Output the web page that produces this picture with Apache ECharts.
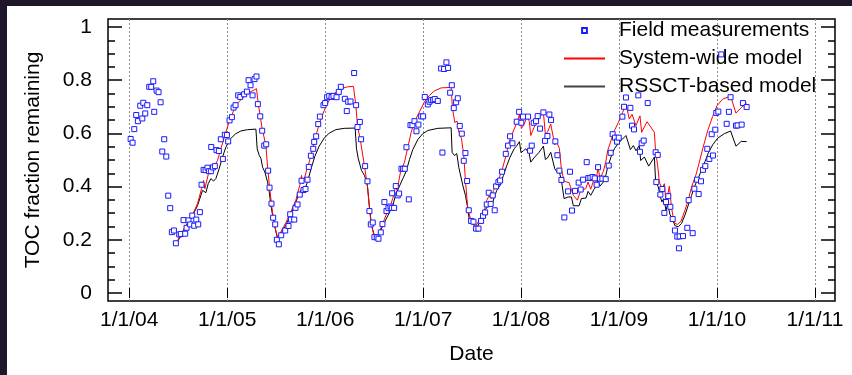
<!DOCTYPE html>
<html>
<head>
<meta charset="utf-8">
<script src="https://cdn.jsdelivr.net/npm/echarts@6/dist/echarts.min.js"></script>
<style>
  body { margin: 0; background: #1f1729; }
  #panel { position: absolute; left: 7px; top: 6px; width: 845px; height: 369px; background: #fff; }
  #chart { position: absolute; left: 0; top: 0; width: 852px; height: 375px; }
</style>
</head>
<body>
<div id="panel"></div>
<div id="chart"></div>
<script>
// time is in decimal years, value is TOC fraction remaining
const yearTicks = [2004, 2005, 2006, 2007, 2008, 2009, 2010, 2011]
const yTicks = [0, 0.2, 0.4, 0.6, 0.8, 1]
const yMinorTicks = [0.05, 0.1, 0.15, 0.25, 0.3, 0.35, 0.45, 0.5, 0.55, 0.65, 0.7, 0.75, 0.85, 0.9, 0.95]

const fieldData = [
  [2004.014, 0.579], [2004.034, 0.565], [2004.051, 0.616], [2004.071, 0.669], [2004.088, 0.646],
  [2004.112, 0.704], [2004.133, 0.656], [2004.143, 0.715], [2004.163, 0.675], [2004.184, 0.706],
  [2004.204, 0.775], [2004.224, 0.775], [2004.245, 0.796], [2004.255, 0.681], [2004.279, 0.761],
  [2004.299, 0.755], [2004.320, 0.717], [2004.337, 0.532], [2004.357, 0.578], [2004.378, 0.513],
  [2004.398, 0.366], [2004.418, 0.319], [2004.435, 0.229], [2004.456, 0.235], [2004.476, 0.187],
  [2004.510, 0.220], [2004.527, 0.222], [2004.554, 0.274], [2004.571, 0.223], [2004.585, 0.245],
  [2004.605, 0.273], [2004.622, 0.258], [2004.643, 0.291], [2004.663, 0.253], [2004.684, 0.276],
  [2004.704, 0.258], [2004.721, 0.304], [2004.738, 0.407], [2004.759, 0.463], [2004.779, 0.462],
  [2004.799, 0.471], [2004.813, 0.458], [2004.833, 0.458], [2004.837, 0.549], [2004.854, 0.472],
  [2004.874, 0.477], [2004.891, 0.537], [2004.915, 0.534], [2004.935, 0.578], [2004.956, 0.504],
  [2004.976, 0.595], [2004.997, 0.594], [2005.010, 0.570], [2005.024, 0.649], [2005.048, 0.661],
  [2005.065, 0.697], [2005.085, 0.706], [2005.112, 0.743], [2005.133, 0.737], [2005.173, 0.747],
  [2005.201, 0.757], [2005.218, 0.800], [2005.238, 0.781], [2005.259, 0.743], [2005.279, 0.804],
  [2005.299, 0.814], [2005.313, 0.710], [2005.337, 0.664], [2005.357, 0.610], [2005.378, 0.554],
  [2005.398, 0.559], [2005.418, 0.460], [2005.432, 0.396], [2005.452, 0.336], [2005.469, 0.283],
  [2005.490, 0.258], [2005.507, 0.200], [2005.527, 0.183], [2005.551, 0.217], [2005.592, 0.235],
  [2005.626, 0.252], [2005.643, 0.296], [2005.650, 0.276], [2005.684, 0.276], [2005.697, 0.320],
  [2005.718, 0.333], [2005.741, 0.370], [2005.759, 0.422], [2005.779, 0.387], [2005.799, 0.391],
  [2005.820, 0.426], [2005.833, 0.474], [2005.854, 0.516], [2005.878, 0.542], [2005.888, 0.568],
  [2005.908, 0.589], [2005.929, 0.635], [2005.946, 0.663], [2005.983, 0.706], [2006.000, 0.714],
  [2006.020, 0.736], [2006.041, 0.741], [2006.065, 0.737], [2006.085, 0.741], [2006.116, 0.736],
  [2006.139, 0.756], [2006.160, 0.775], [2006.201, 0.730], [2006.221, 0.684], [2006.235, 0.719],
  [2006.259, 0.720], [2006.296, 0.827], [2006.316, 0.706], [2006.330, 0.624], [2006.354, 0.643],
  [2006.367, 0.578], [2006.408, 0.477], [2006.432, 0.420], [2006.452, 0.308], [2006.466, 0.258],
  [2006.486, 0.265], [2006.503, 0.210], [2006.527, 0.209], [2006.544, 0.204], [2006.568, 0.228],
  [2006.585, 0.259], [2006.605, 0.342], [2006.626, 0.308], [2006.646, 0.320], [2006.667, 0.325],
  [2006.680, 0.320], [2006.684, 0.375], [2006.704, 0.320], [2006.721, 0.402], [2006.741, 0.367],
  [2006.755, 0.374], [2006.779, 0.467], [2006.796, 0.467], [2006.813, 0.467], [2006.830, 0.548],
  [2006.854, 0.352], [2006.871, 0.631], [2006.891, 0.631], [2006.912, 0.646], [2006.932, 0.608],
  [2006.952, 0.633], [2006.980, 0.664], [2007.000, 0.664], [2007.017, 0.737], [2007.048, 0.709],
  [2007.065, 0.719], [2007.082, 0.725], [2007.102, 0.726], [2007.119, 0.729], [2007.150, 0.722],
  [2007.184, 0.844], [2007.197, 0.528], [2007.214, 0.842], [2007.238, 0.867], [2007.255, 0.846],
  [2007.276, 0.753], [2007.293, 0.781], [2007.313, 0.695], [2007.337, 0.717], [2007.354, 0.732],
  [2007.374, 0.628], [2007.395, 0.599], [2007.415, 0.497], [2007.432, 0.526], [2007.449, 0.421],
  [2007.466, 0.311], [2007.490, 0.271], [2007.514, 0.268], [2007.541, 0.242], [2007.565, 0.242],
  [2007.592, 0.271], [2007.612, 0.290], [2007.633, 0.303], [2007.650, 0.333], [2007.670, 0.377],
  [2007.690, 0.335], [2007.711, 0.367], [2007.731, 0.311], [2007.745, 0.401], [2007.769, 0.417],
  [2007.786, 0.423], [2007.806, 0.456], [2007.844, 0.523], [2007.867, 0.554], [2007.888, 0.589],
  [2007.912, 0.563], [2007.956, 0.644], [2007.980, 0.681], [2008.003, 0.640], [2008.020, 0.663],
  [2008.071, 0.663], [2008.092, 0.535], [2008.109, 0.554], [2008.129, 0.640], [2008.153, 0.646],
  [2008.170, 0.665], [2008.194, 0.618], [2008.228, 0.679], [2008.245, 0.572], [2008.269, 0.590],
  [2008.289, 0.671], [2008.306, 0.650], [2008.350, 0.570], [2008.371, 0.518], [2008.391, 0.460],
  [2008.412, 0.425], [2008.442, 0.284], [2008.480, 0.382], [2008.500, 0.456], [2008.520, 0.310],
  [2008.551, 0.384], [2008.588, 0.415], [2008.609, 0.389], [2008.633, 0.426], [2008.670, 0.492],
  [2008.687, 0.432], [2008.707, 0.433], [2008.731, 0.436], [2008.752, 0.431], [2008.772, 0.407],
  [2008.786, 0.473], [2008.806, 0.430], [2008.830, 0.430], [2008.864, 0.428], [2008.895, 0.479],
  [2008.915, 0.527], [2008.935, 0.597], [2008.959, 0.584], [2008.980, 0.569], [2008.997, 0.584],
  [2009.034, 0.663], [2009.051, 0.700], [2009.071, 0.735], [2009.116, 0.696], [2009.133, 0.629],
  [2009.153, 0.615], [2009.197, 0.743], [2009.214, 0.531], [2009.231, 0.563], [2009.252, 0.573],
  [2009.293, 0.714], [2009.374, 0.529], [2009.381, 0.417], [2009.395, 0.519], [2009.422, 0.370],
  [2009.442, 0.391], [2009.463, 0.301], [2009.480, 0.342], [2009.503, 0.364], [2009.524, 0.324],
  [2009.548, 0.278], [2009.571, 0.235], [2009.595, 0.212], [2009.612, 0.168], [2009.619, 0.213],
  [2009.653, 0.214], [2009.697, 0.245], [2009.711, 0.349], [2009.752, 0.225], [2009.769, 0.392],
  [2009.796, 0.426], [2009.813, 0.372], [2009.837, 0.420], [2009.857, 0.463], [2009.881, 0.477],
  [2009.901, 0.542], [2009.922, 0.504], [2009.946, 0.597], [2009.959, 0.517], [2009.983, 0.614],
  [2009.993, 0.677], [2010.014, 0.682], [2010.044, 0.897], [2010.099, 0.636], [2010.122, 0.681],
  [2010.139, 0.736], [2010.194, 0.629], [2010.211, 0.630], [2010.252, 0.633], [2010.265, 0.714],
  [2010.303, 0.699]
]

const systemWideModel = [
  [2004.486, 0.193], [2004.561, 0.243], [2004.639, 0.289], [2004.697, 0.336], [2004.738, 0.392],
  [2004.759, 0.423], [2004.772, 0.392], [2004.806, 0.445], [2004.833, 0.465], [2004.867, 0.477],
  [2004.901, 0.498], [2004.935, 0.542], [2004.976, 0.592], [2005.020, 0.644], [2005.065, 0.685],
  [2005.112, 0.716], [2005.150, 0.730], [2005.207, 0.750], [2005.299, 0.768], [2005.316, 0.714],
  [2005.337, 0.666], [2005.354, 0.623], [2005.395, 0.554], [2005.412, 0.473], [2005.432, 0.399],
  [2005.452, 0.336], [2005.469, 0.286], [2005.490, 0.243], [2005.514, 0.208], [2005.548, 0.230],
  [2005.599, 0.265], [2005.650, 0.305], [2005.701, 0.349], [2005.745, 0.411], [2005.759, 0.442],
  [2005.772, 0.411], [2005.806, 0.455], [2005.837, 0.492], [2005.871, 0.542], [2005.915, 0.604],
  [2005.956, 0.654], [2006.007, 0.701], [2006.058, 0.735], [2006.109, 0.756], [2006.160, 0.768],
  [2006.228, 0.775], [2006.289, 0.777], [2006.313, 0.706], [2006.330, 0.629], [2006.357, 0.579],
  [2006.398, 0.486], [2006.435, 0.392], [2006.452, 0.318], [2006.469, 0.262], [2006.497, 0.218],
  [2006.520, 0.208], [2006.554, 0.230], [2006.588, 0.262], [2006.622, 0.293], [2006.667, 0.330],
  [2006.690, 0.355], [2006.718, 0.399], [2006.735, 0.386], [2006.769, 0.455], [2006.810, 0.492],
  [2006.844, 0.548], [2006.878, 0.604], [2006.912, 0.644], [2006.963, 0.681], [2007.014, 0.719],
  [2007.065, 0.743], [2007.116, 0.760], [2007.184, 0.771], [2007.286, 0.773], [2007.299, 0.697],
  [2007.323, 0.641], [2007.347, 0.646], [2007.367, 0.604], [2007.391, 0.582], [2007.415, 0.517],
  [2007.432, 0.423], [2007.456, 0.318], [2007.490, 0.270], [2007.541, 0.253], [2007.578, 0.278],
  [2007.626, 0.311], [2007.650, 0.349], [2007.673, 0.365], [2007.697, 0.355], [2007.718, 0.386],
  [2007.741, 0.399], [2007.776, 0.432], [2007.810, 0.467], [2007.844, 0.514], [2007.878, 0.567],
  [2007.912, 0.601], [2007.956, 0.639], [2007.983, 0.671], [2008.003, 0.619], [2008.024, 0.629],
  [2008.065, 0.664], [2008.085, 0.644], [2008.099, 0.592], [2008.133, 0.623], [2008.173, 0.654],
  [2008.228, 0.679], [2008.248, 0.598], [2008.269, 0.604], [2008.303, 0.635], [2008.344, 0.557],
  [2008.364, 0.567], [2008.391, 0.544], [2008.412, 0.465], [2008.439, 0.420], [2008.490, 0.415],
  [2008.534, 0.367], [2008.575, 0.349], [2008.609, 0.386], [2008.660, 0.392], [2008.684, 0.417],
  [2008.711, 0.390], [2008.738, 0.420], [2008.762, 0.411], [2008.786, 0.473], [2008.806, 0.430],
  [2008.840, 0.457], [2008.864, 0.492], [2008.884, 0.535], [2008.918, 0.573], [2008.952, 0.610],
  [2008.993, 0.641], [2009.037, 0.679], [2009.071, 0.710], [2009.105, 0.654], [2009.133, 0.672],
  [2009.173, 0.629], [2009.214, 0.666], [2009.231, 0.604], [2009.286, 0.644], [2009.361, 0.604],
  [2009.374, 0.529], [2009.395, 0.479], [2009.412, 0.417], [2009.439, 0.392], [2009.463, 0.411],
  [2009.480, 0.336], [2009.514, 0.402], [2009.537, 0.318], [2009.565, 0.262], [2009.599, 0.258],
  [2009.633, 0.270], [2009.667, 0.305], [2009.701, 0.342], [2009.741, 0.399], [2009.786, 0.445],
  [2009.820, 0.492], [2009.854, 0.542], [2009.905, 0.610], [2009.956, 0.664], [2010.000, 0.704],
  [2010.058, 0.729], [2010.139, 0.740], [2010.194, 0.676], [2010.248, 0.697], [2010.303, 0.714]
]

const rssctModel = [
  [2004.486, 0.189], [2004.561, 0.237], [2004.639, 0.286], [2004.697, 0.328], [2004.748, 0.386],
  [2004.782, 0.377], [2004.806, 0.411], [2004.833, 0.430], [2004.861, 0.421], [2004.884, 0.430],
  [2004.918, 0.467], [2004.952, 0.511], [2004.986, 0.548], [2005.031, 0.579], [2005.088, 0.599],
  [2005.139, 0.609], [2005.207, 0.614], [2005.293, 0.616], [2005.306, 0.542], [2005.327, 0.517],
  [2005.344, 0.507], [2005.361, 0.473], [2005.384, 0.455], [2005.412, 0.417], [2005.429, 0.380],
  [2005.446, 0.330], [2005.469, 0.280], [2005.490, 0.243], [2005.514, 0.205], [2005.548, 0.224],
  [2005.599, 0.255], [2005.650, 0.296], [2005.694, 0.336], [2005.735, 0.374], [2005.762, 0.392],
  [2005.786, 0.386], [2005.820, 0.417], [2005.854, 0.465], [2005.895, 0.514], [2005.939, 0.552],
  [2005.990, 0.582], [2006.041, 0.601], [2006.109, 0.614], [2006.194, 0.619], [2006.306, 0.620],
  [2006.320, 0.542], [2006.337, 0.507], [2006.357, 0.502], [2006.371, 0.461], [2006.401, 0.442],
  [2006.429, 0.411], [2006.449, 0.336], [2006.466, 0.278], [2006.486, 0.237], [2006.510, 0.208],
  [2006.554, 0.224], [2006.588, 0.253], [2006.639, 0.290], [2006.690, 0.328], [2006.718, 0.367],
  [2006.735, 0.361], [2006.759, 0.402], [2006.793, 0.430], [2006.827, 0.457], [2006.861, 0.502],
  [2006.895, 0.539], [2006.946, 0.577], [2006.997, 0.599], [2007.048, 0.611], [2007.150, 0.619],
  [2007.286, 0.621], [2007.296, 0.529], [2007.320, 0.517], [2007.344, 0.524], [2007.364, 0.473],
  [2007.381, 0.473], [2007.405, 0.405], [2007.432, 0.367], [2007.456, 0.318], [2007.473, 0.270],
  [2007.507, 0.259], [2007.544, 0.243], [2007.578, 0.265], [2007.626, 0.295], [2007.639, 0.315],
  [2007.673, 0.333], [2007.701, 0.328], [2007.724, 0.357], [2007.752, 0.386], [2007.786, 0.405],
  [2007.820, 0.442], [2007.854, 0.479], [2007.888, 0.511], [2007.929, 0.542], [2007.956, 0.554],
  [2007.983, 0.569], [2008.000, 0.527], [2008.024, 0.535], [2008.048, 0.542], [2008.082, 0.526],
  [2008.099, 0.492], [2008.139, 0.511], [2008.184, 0.529], [2008.228, 0.552], [2008.248, 0.502],
  [2008.269, 0.507], [2008.303, 0.529], [2008.344, 0.467], [2008.364, 0.457], [2008.391, 0.455],
  [2008.412, 0.423], [2008.439, 0.355], [2008.480, 0.361], [2008.514, 0.361], [2008.534, 0.328],
  [2008.592, 0.328], [2008.616, 0.355], [2008.663, 0.357], [2008.684, 0.382], [2008.711, 0.367],
  [2008.745, 0.390], [2008.765, 0.399], [2008.786, 0.423], [2008.806, 0.402], [2008.840, 0.417],
  [2008.864, 0.440], [2008.884, 0.473], [2008.918, 0.511], [2008.952, 0.542], [2008.993, 0.563],
  [2009.037, 0.579], [2009.071, 0.592], [2009.116, 0.539], [2009.146, 0.554], [2009.173, 0.535],
  [2009.207, 0.554], [2009.221, 0.498], [2009.259, 0.511], [2009.303, 0.477], [2009.361, 0.511],
  [2009.374, 0.417], [2009.401, 0.399], [2009.422, 0.361], [2009.439, 0.342], [2009.456, 0.355],
  [2009.480, 0.311], [2009.497, 0.336], [2009.520, 0.295], [2009.544, 0.280], [2009.571, 0.253],
  [2009.605, 0.249], [2009.639, 0.262], [2009.673, 0.293], [2009.707, 0.330], [2009.741, 0.367],
  [2009.776, 0.405], [2009.810, 0.432], [2009.844, 0.465], [2009.878, 0.494], [2009.912, 0.527],
  [2009.956, 0.557], [2010.007, 0.582], [2010.075, 0.599], [2010.139, 0.609], [2010.194, 0.552],
  [2010.248, 0.570], [2010.303, 0.569]
]

const FONT = 'Liberation Sans, Arial, sans-serif'
const FONT_SIZE = 21
const X_MIN = 2003.783
const X_MAX = 2011.205
const Y_MIN = -0.03
const Y_MAX = 1.03

function yearLabel(v) {
  return '1/1/' + String(Math.round(v) % 100).padStart(2, '0')
}

// one helper for the four y axes (left/right, major/minor ticks)
function yAxisOf(position, ticks, len, withLabels) {
  return {
    type: 'value',
    position: position,
    min: Y_MIN,
    max: Y_MAX,
    axisLine: { show: false },
    axisTick: {
      show: true, inside: true, length: len, customValues: ticks,
      lineStyle: { color: '#000', width: 1.5 }
    },
    axisLabel: withLabels ? {
      show: true, customValues: ticks, margin: 16,
      color: '#000', fontSize: FONT_SIZE, fontFamily: FONT,
      formatter: v => String(v)
    } : { show: false },
    splitLine: { show: false }
  }
}

let chart = echarts.init(document.getElementById('chart'), null, { renderer: 'canvas' })

let leftMajor = yAxisOf('left', yTicks, 14, true)
leftMajor.name = 'TOC fraction remaining'
leftMajor.nameLocation = 'middle'
leftMajor.nameGap = 64
leftMajor.nameTextStyle = { color: '#000', fontSize: FONT_SIZE, fontFamily: FONT }

chart.setOption({
  animation: false,
  backgroundColor: 'transparent',
  grid: {
    left: 108, top: 19, width: 727, height: 282,
    show: true, borderColor: '#000', borderWidth: 1.5,
    backgroundColor: 'transparent'
  },
  legend: {
    orient: 'vertical',
    left: 563,
    top: 20,
    padding: 0,
    itemWidth: 41,
    itemHeight: 6,
    itemGap: 7,
    textStyle: { color: '#000', fontSize: FONT_SIZE, fontFamily: FONT, padding: [0, 0, 0, 9] },
    data: [
      { name: 'Field measurements' },
      { name: 'System-wide model', itemStyle: { opacity: 0 } },
      { name: 'RSSCT-based model', itemStyle: { opacity: 0 }, lineStyle: { color: '#444' } }
    ]
  },
  xAxis: [{
    type: 'value',
    position: 'bottom',
    min: X_MIN,
    max: X_MAX,
    name: 'Date',
    nameLocation: 'middle',
    nameGap: 43,
    nameTextStyle: { color: '#000', fontSize: FONT_SIZE, fontFamily: FONT },
    axisLine: { show: false },
    axisTick: { show: true, inside: true, length: 5, customValues: yearTicks, lineStyle: { color: '#000', width: 1 } },
    axisLabel: {
      customValues: yearTicks, margin: 9,
      color: '#000', fontSize: FONT_SIZE, fontFamily: FONT,
      formatter: yearLabel
    },
    splitLine: { show: true, lineStyle: { color: '#8a8a8a', width: 1, type: [2, 2] } }
  }, {
    type: 'value',
    position: 'top',
    min: X_MIN,
    max: X_MAX,
    axisLine: { show: false },
    axisTick: { show: true, inside: true, length: 5, customValues: yearTicks, lineStyle: { color: '#000', width: 1 } },
    axisLabel: { show: false },
    splitLine: { show: false }
  }],
  yAxis: [
    leftMajor,
    yAxisOf('left', yMinorTicks, 7, false),
    yAxisOf('right', yTicks, 14, false),
    yAxisOf('right', yMinorTicks, 7, false)
  ],
  series: [{
    name: 'Field measurements',
    type: 'line',
    data: fieldData,
    symbol: 'rect',
    symbolSize: 5,
    showAllSymbol: true,
    lineStyle: { opacity: 0, width: 0 },
    itemStyle: { color: '#ffffff', borderColor: '#1a1aff', borderWidth: 1 },
    z: 4
  }, {
    name: 'System-wide model',
    type: 'line',
    data: systemWideModel,
    symbol: 'none',
    lineStyle: { color: '#ff0000', width: 1 },
    itemStyle: { color: '#ff0000' },
    z: 3
  }, {
    name: 'RSSCT-based model',
    type: 'line',
    data: rssctModel,
    symbol: 'none',
    lineStyle: { color: '#000', width: 1 },
    itemStyle: { color: '#000' },
    z: 2
  }]
})
</script>
</body>
</html>
